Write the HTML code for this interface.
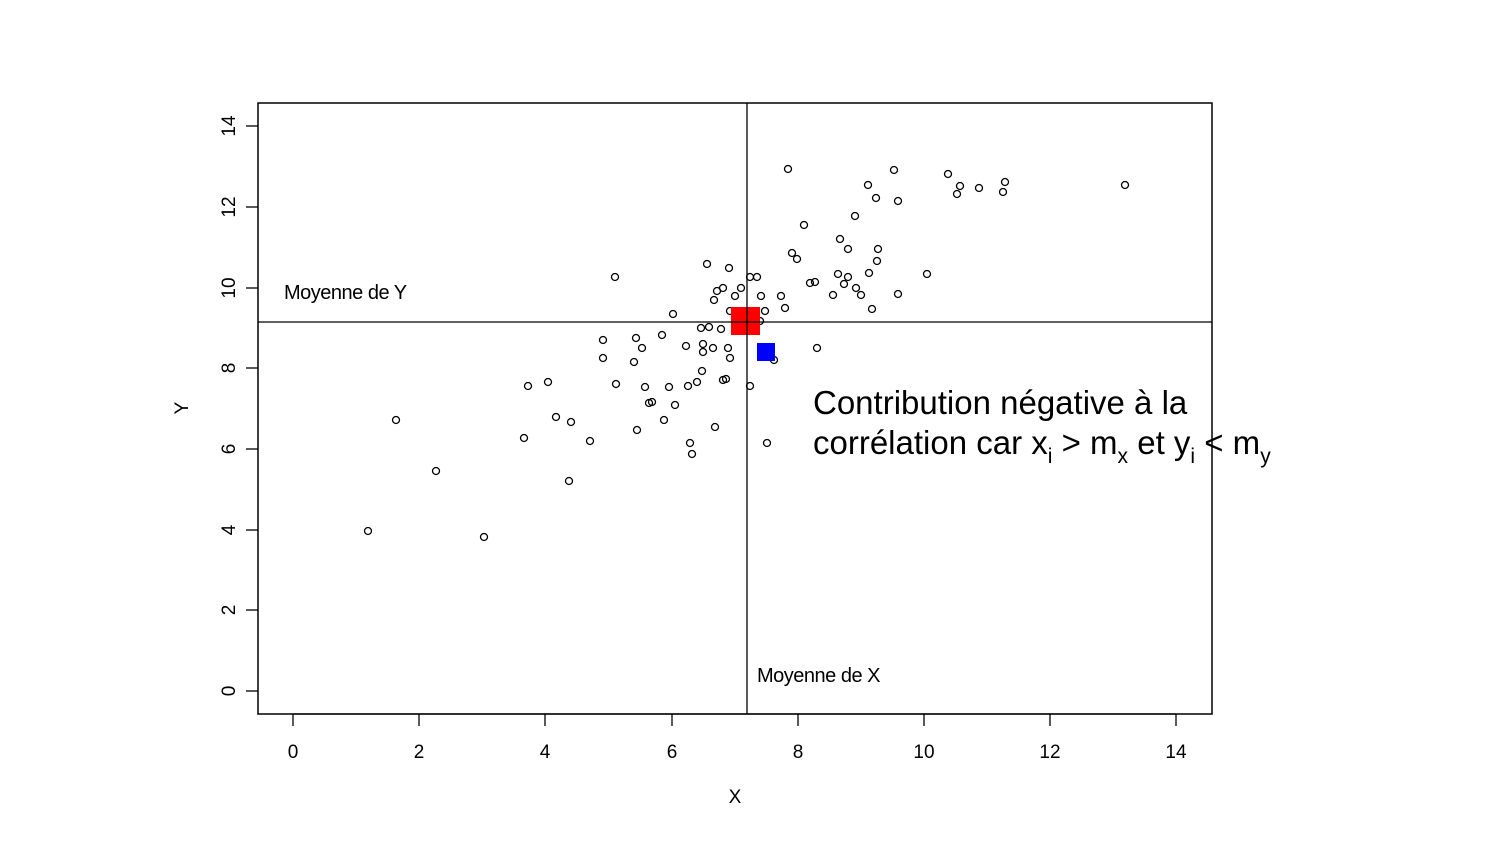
<!DOCTYPE html>
<html><head><meta charset="utf-8"><style>body{margin:0;background:#fff}svg{display:block}</style></head><body>
<svg width="1500" height="845" xmlns="http://www.w3.org/2000/svg" font-family="Liberation Sans, sans-serif">
<rect x="0" y="0" width="1500" height="845" fill="#fff"/>
<g fill="none" stroke="#000" stroke-width="1.3" id="pts">
<circle cx="368" cy="531" r="3.5"/><circle cx="396" cy="420" r="3.5"/><circle cx="436" cy="471" r="3.5"/><circle cx="484" cy="537" r="3.5"/><circle cx="524" cy="438" r="3.5"/><circle cx="528" cy="386" r="3.5"/><circle cx="548" cy="382" r="3.5"/><circle cx="556" cy="417" r="3.5"/><circle cx="569" cy="481" r="3.5"/><circle cx="571" cy="422" r="3.5"/><circle cx="590" cy="441" r="3.5"/><circle cx="603" cy="340" r="3.5"/><circle cx="603" cy="358" r="3.5"/><circle cx="615" cy="277" r="3.5"/><circle cx="616" cy="384" r="3.5"/><circle cx="634" cy="362" r="3.5"/><circle cx="636" cy="338" r="3.5"/><circle cx="637" cy="430" r="3.5"/><circle cx="642" cy="348" r="3.5"/><circle cx="645" cy="387" r="3.5"/><circle cx="649" cy="403" r="3.5"/><circle cx="652" cy="402" r="3.5"/><circle cx="662" cy="335" r="3.5"/><circle cx="664" cy="420" r="3.5"/><circle cx="669" cy="387" r="3.5"/><circle cx="673" cy="314" r="3.5"/><circle cx="675" cy="405" r="3.5"/><circle cx="686" cy="346" r="3.5"/><circle cx="688" cy="386" r="3.5"/><circle cx="690" cy="443" r="3.5"/><circle cx="692" cy="454" r="3.5"/><circle cx="697" cy="382" r="3.5"/><circle cx="701" cy="328" r="3.5"/><circle cx="702" cy="371" r="3.5"/><circle cx="703" cy="344" r="3.5"/><circle cx="703" cy="352" r="3.5"/><circle cx="707" cy="264" r="3.5"/><circle cx="709" cy="327" r="3.5"/><circle cx="713" cy="348" r="3.5"/><circle cx="714" cy="300" r="3.5"/><circle cx="715" cy="427" r="3.5"/><circle cx="717" cy="291" r="3.5"/><circle cx="721" cy="329" r="3.5"/><circle cx="723" cy="288" r="3.5"/><circle cx="723" cy="380" r="3.5"/><circle cx="726" cy="379" r="3.5"/><circle cx="728" cy="348" r="3.5"/><circle cx="729" cy="268" r="3.5"/><circle cx="730" cy="358" r="3.5"/><circle cx="730" cy="311" r="3.5"/><circle cx="735" cy="296" r="3.5"/><circle cx="741" cy="288" r="3.5"/><circle cx="750" cy="277" r="3.5"/><circle cx="750" cy="386" r="3.5"/><circle cx="757" cy="277" r="3.5"/><circle cx="760" cy="321" r="3.5"/><circle cx="761" cy="296" r="3.5"/><circle cx="765" cy="311" r="3.5"/><circle cx="767" cy="443" r="3.5"/><circle cx="774" cy="360" r="3.5"/><circle cx="781" cy="296" r="3.5"/><circle cx="785" cy="308" r="3.5"/><circle cx="788" cy="169" r="3.5"/><circle cx="792" cy="253" r="3.5"/><circle cx="797" cy="259" r="3.5"/><circle cx="804" cy="225" r="3.5"/><circle cx="810" cy="283" r="3.5"/><circle cx="815" cy="282" r="3.5"/><circle cx="817" cy="348" r="3.5"/><circle cx="833" cy="295" r="3.5"/><circle cx="838" cy="274" r="3.5"/><circle cx="840" cy="239" r="3.5"/><circle cx="844" cy="284" r="3.5"/><circle cx="848" cy="249" r="3.5"/><circle cx="848" cy="277" r="3.5"/><circle cx="855" cy="216" r="3.5"/><circle cx="856" cy="288" r="3.5"/><circle cx="861" cy="295" r="3.5"/><circle cx="868" cy="185" r="3.5"/><circle cx="869" cy="273" r="3.5"/><circle cx="872" cy="309" r="3.5"/><circle cx="876" cy="198" r="3.5"/><circle cx="877" cy="261" r="3.5"/><circle cx="878" cy="249" r="3.5"/><circle cx="894" cy="170" r="3.5"/><circle cx="898" cy="294" r="3.5"/><circle cx="898" cy="201" r="3.5"/><circle cx="927" cy="274" r="3.5"/><circle cx="948" cy="174" r="3.5"/><circle cx="957" cy="194" r="3.5"/><circle cx="960" cy="186" r="3.5"/><circle cx="979" cy="188" r="3.5"/><circle cx="1003" cy="192" r="3.5"/><circle cx="1005" cy="182" r="3.5"/><circle cx="1125" cy="185" r="3.5"/>
</g>
<rect x="731" y="307" width="29" height="28" fill="#f00"/>
<rect x="757" y="343" width="18" height="18" fill="#00f"/>
<g stroke="#000" stroke-width="1.3">
<line x1="747" y1="103" x2="747" y2="714"/>
<line x1="258" y1="322" x2="1212" y2="322"/>
</g>
<rect x="258" y="103" width="954" height="611" fill="none" stroke="#000" stroke-width="1.5"/>
<g stroke="#000" stroke-width="1.3">
<line x1="293" y1="714" x2="1176" y2="714"/>
<line x1="293" y1="714" x2="293" y2="726"/><line x1="419" y1="714" x2="419" y2="726"/><line x1="545" y1="714" x2="545" y2="726"/><line x1="672" y1="714" x2="672" y2="726"/><line x1="798" y1="714" x2="798" y2="726"/><line x1="924" y1="714" x2="924" y2="726"/><line x1="1050" y1="714" x2="1050" y2="726"/><line x1="1176" y1="714" x2="1176" y2="726"/>
<line x1="246" y1="691" x2="258" y2="691"/><line x1="246" y1="610" x2="258" y2="610"/><line x1="246" y1="530" x2="258" y2="530"/><line x1="246" y1="449" x2="258" y2="449"/><line x1="246" y1="368" x2="258" y2="368"/><line x1="246" y1="288" x2="258" y2="288"/><line x1="246" y1="207" x2="258" y2="207"/><line x1="246" y1="126" x2="258" y2="126"/>
</g>
<g font-size="19" text-anchor="middle">
<text x="293" y="758">0</text><text x="419" y="758">2</text><text x="545" y="758">4</text><text x="672" y="758">6</text><text x="798" y="758">8</text><text x="924" y="758">10</text><text x="1050" y="758">12</text><text x="1176" y="758">14</text>
<text transform="translate(235,691) rotate(-90)">0</text><text transform="translate(235,610) rotate(-90)">2</text><text transform="translate(235,530) rotate(-90)">4</text><text transform="translate(235,449) rotate(-90)">6</text><text transform="translate(235,368) rotate(-90)">8</text><text transform="translate(235,288) rotate(-90)">10</text><text transform="translate(235,207) rotate(-90)">12</text><text transform="translate(235,126) rotate(-90)">14</text>
<text x="735" y="803">X</text>
<text transform="translate(188,408) rotate(-90)">Y</text>
</g>
<g font-size="20" letter-spacing="-0.5">
<text x="284" y="299">Moyenne de Y</text>
<text x="757" y="682">Moyenne de X</text>
</g>
<g font-size="33">
<text x="813" y="414">Contribution négative à la</text>
<text x="813" y="454">corrélation car x<tspan font-size="21" dy="9">i</tspan><tspan dy="-9"> &gt; m</tspan><tspan font-size="21" dy="9">x</tspan><tspan dy="-9"> et y</tspan><tspan font-size="21" dy="9">i</tspan><tspan dy="-9"> &lt; m</tspan><tspan font-size="21" dy="9">y</tspan></text>
</g>
</svg>
</body></html>
